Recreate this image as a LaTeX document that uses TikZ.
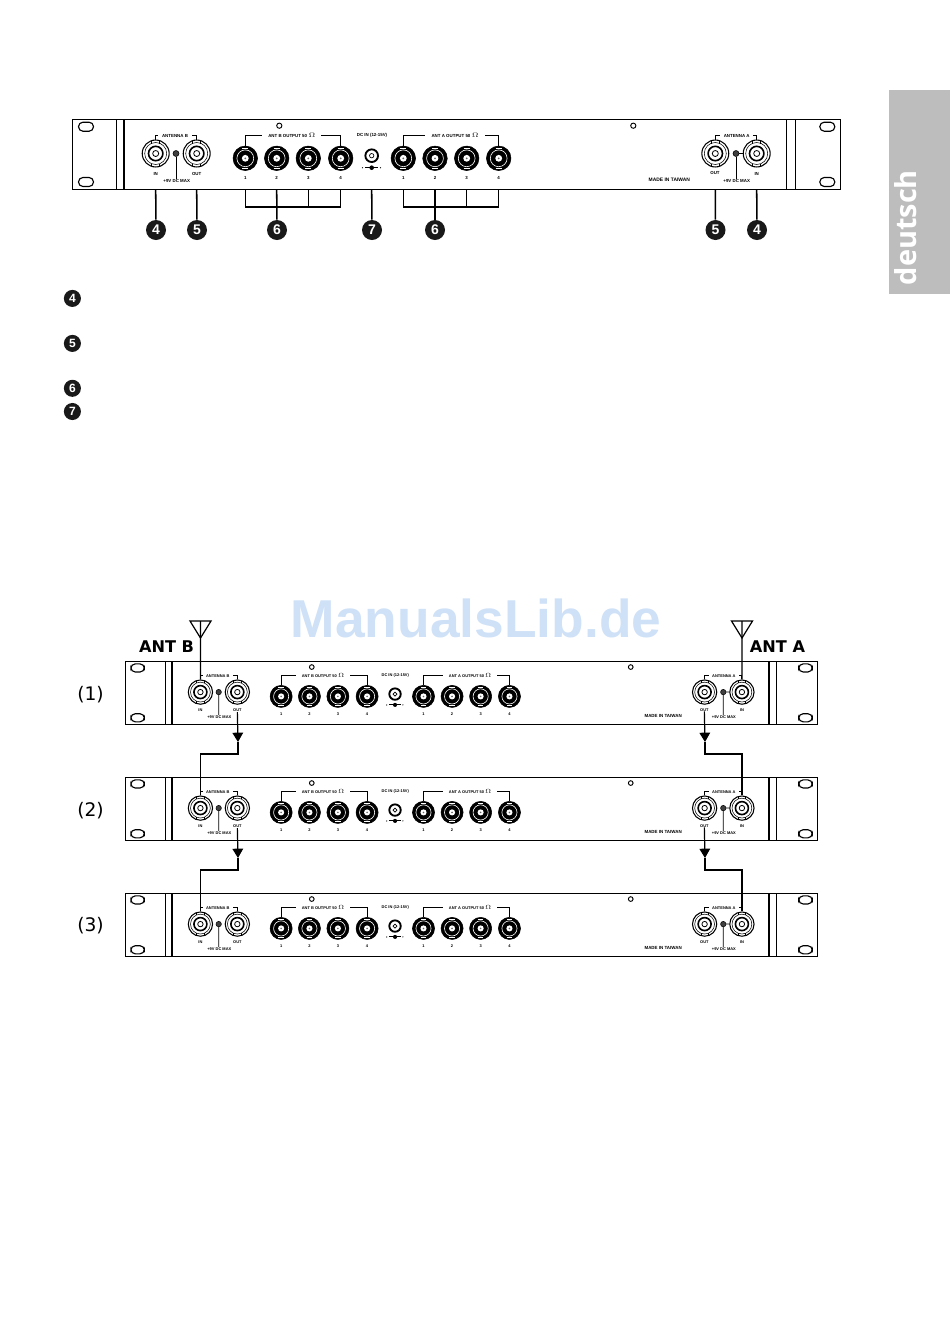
\documentclass[tikz,border=0pt]{standalone}
\usepackage{fontspec}
\setsansfont{Liberation Sans}
\newfontfamily\wide{DejaVu Sans}
\newfontfamily\tabfont{Open Sans}
\usetikzlibrary{arrows.meta, positioning}
\definecolor{markblue}{HTML}{CFE1F7}
\definecolor{tabgray}{HTML}{BDBDBD}

\tikzset{
  rackframe/.style={draw, line width=.9pt, anchor=north west, minimum width=576pt, minimum height=52.5pt, inner sep=0pt},
  tiny/.style={font=\sffamily\bfseries\fontsize{3.3}{4}\selectfont, inner sep=0pt},
  outlabel/.style={tiny, inner xsep=4.5pt},
  bncant/.style={circle, draw, line width=.8pt, minimum size=20.2pt, inner sep=0pt},
  bncout/.style={circle, draw, line width=.4pt, minimum size=18.4pt, inner sep=0pt},
  dcjack/.style={circle, draw, line width=1.4pt, minimum size=9.5pt, inner sep=0pt},
  jack/.style={circle, fill=black!75, draw, line width=.4pt, minimum size=4.5pt, inner sep=0pt},
  callout/.style={circle, fill=black!90, text=white, font=\sffamily\bfseries\fontsize{10.5}{12}\selectfont, minimum size=15pt, inner sep=0pt},
  legend/.style={callout, font=\sffamily\bfseries\fontsize{9}{10}\selectfont, minimum size=12.8pt},
  rowlab/.style={font=\wide\fontsize{14}{15}\selectfont, inner sep=0pt},
  antlab/.style={font=\wide\bfseries\fontsize{12.1}{15}\selectfont, inner sep=0pt},
  leader/.style={line width=1.15pt},
  feedline/.style={line width=.9pt},
  feedarrow/.style={line width=.9pt, -{Triangle[length=7pt, width=8pt]}},
  rackpanel/.pic={
    \node[rackframe] (frame) at (0,0) {};
    \draw[line width=.6pt] (44.7,0) -- (44.7,70);
    \draw[line width=1.1pt] (52,0) -- (52,70);
    \draw[line width=1.1pt] (714.7,0) -- (714.7,70);
    \draw[line width=.6pt] (723.3,0) -- (723.3,70);
    \foreach \hx in {14,755.3}
      \foreach \hy in {7.7,63}
        \draw[line width=.85pt, rounded corners=3.3pt] (\hx-7.5,\hy-4.5) rectangle (\hx+7.5,\hy+4.5);
    \draw[line width=.7pt] (207.3,6.7) circle (2.6);
    \draw[line width=.7pt] (561.3,6.7) circle (2.6);
    % antenna sockets
    \foreach \cx/\nm in {83.7/bin,124.7/bout,643.3/aout,684.7/ain} {
      \draw[line width=.4pt] (\cx,34.5) circle (11);
      \draw[line width=1.2pt] (\cx,34.5) circle (7.2);
      \draw[line width=.6pt] (\cx,34.5) circle (3);
      \draw[line width=.5pt] (\cx-4,21.7) -- (\cx-4,24.5) (\cx+4,21.7) -- (\cx+4,24.5);
      \draw[line width=.5pt] (\cx-4,47.3) -- (\cx-4,44.5) (\cx+4,47.3) -- (\cx+4,44.5);
      \node[bncant] (\nm) at (\cx,34.5) {};
    }
    \node[jack] (bjack) at (104,34.5) {};
    \node[jack] (ajack) at (664,34.5) {};
    \node[tiny] (bpow) at (104.7,62) {+9V DC MAX};
    \node[tiny] (apow) at (664.7,62) {+9V DC MAX};
    \draw[line width=.6pt] (bjack) -- (bjack |- bpow.north);
    \draw[line width=.6pt] (ajack) -- (ajack |- apow.north);
    \draw[line width=.6pt] (ajack) -- (ain);
    \node[tiny, inner xsep=2.5pt] (bant) at (103,16.5) {ANTENNA B};
    \node[tiny, inner xsep=2.5pt] (aant) at (664.7,16.5) {ANTENNA A};
    \draw[line width=.6pt] (bin.north) |- (bant.west);
    \draw[line width=.6pt] (bout.north) |- (bant.east);
    \draw[line width=.6pt] (aout.north) |- (aant.west);
    \draw[line width=.6pt] (ain.north) |- (aant.east);
    \node[tiny] (binl) at (83.7,55) {IN};
    \node[tiny] (boutl) at (124.7,55) {OUT};
    \node[tiny] (aoutl) at (643,54) {OUT};
    \node[tiny] (ainl) at (684.7,55) {IN};
    % output sockets
    \foreach \cx/\nm/\tx in {173.3/ob1/1,204.7/ob2/2,236.3/ob3/3,268.7/ob4/4,331.3/oa1/1,363/oa2/2,394.7/oa3/3,426.7/oa4/4} {
      \fill (\cx,39.3) circle (12.3);
      \draw[white, line width=.45pt] (\cx,39.3) circle (8.4);
      \fill[white] (\cx,39.3) circle (3.4);
      \fill[black!60] (\cx,39.3) circle (1);
      \draw[white, line width=.6pt] (\cx-3,29.6) -- (\cx+3,29.6) (\cx-3,49) -- (\cx+3,49);
      \node[bncout] (\nm) at (\cx,39.3) {};
      \node[tiny] (\nm l) at (\cx,58.7) {\tx};
    }
    \node[outlabel] (bolab) at (219.7,16.5) {ANT B OUTPUT 50$\,\Omega$};
    \node[outlabel] (aolab) at (383,16.5) {ANT A OUTPUT 50$\,\Omega$};
    \draw[line width=.7pt] (ob1.north) |- (bolab.west);
    \draw[line width=.7pt] (ob4.north) |- (bolab.east);
    \draw[line width=.7pt] (oa1.north) |- (aolab.west);
    \draw[line width=.7pt] (oa4.north) |- (aolab.east);
    % dc input
    \node[dcjack] (dc) at (299.7,36.7) {};
    \draw[line width=.5pt] (dc) circle (2.2);
    \node[tiny] (dclab) at (300,16.5) {DC IN (12-15V)};
    \fill (299.7,48.7) circle (2.3);
    \draw[line width=.6pt] (293,48.7) -- (306,48.7);
    \fill (290.5,48.7) circle (.7) (308.5,48.7) circle (.7);
    \node[tiny, font=\sffamily\bfseries\fontsize{3.7}{4}\selectfont] (made) at (597.3,61) {MADE IN TAIWAN};
  }
}

\begin{document}
\begin{tikzpicture}[x=.75pt, y=-.75pt]
\useasboundingbox (0,0) rectangle (950,1343);

% language tab
\fill[tabgray] (889,90) rectangle (950,294);
\node[rotate=90, text=white, font=\tabfont\bfseries\fontsize{21.7}{24}\selectfont, inner sep=0pt, anchor=west] (tablab) at (905.5,285.5) {deutsch};

% rear panel
\pic (p0-) at (72,119) {rackpanel};

\node[callout] (n4b) at (156,230) {4};
\node[callout] (n5b) at (197,230) {5};
\node[callout] (n6b) at (277,230) {6};
\node[callout] (n7) at (372,230) {7};
\node[callout] (n6a) at (435,230) {6};
\node[callout] (n5a) at (715.5,230) {5};
\node[callout] (n4a) at (757,230) {4};

\foreach \src/\dst in {bin/n4b,bout/n5b,dc/n7,aout/n5a,ain/n4a}
  \draw[leader] (p0-\src |- p0-frame.south) -- (\dst);

\coordinate (bar6b) at (277,207);
\coordinate (bar6a) at (435,207);
\draw[leader] (p0-ob1 |- p0-frame.south) |- (bar6b) -| (p0-ob4 |- p0-frame.south);
\draw[leader] (p0-ob2 |- p0-frame.south) -- (n6b);
\draw[leader] (p0-ob3 |- p0-frame.south) -- (p0-ob3 |- bar6b);
\draw[leader] (p0-oa1 |- p0-frame.south) |- (bar6a) -| (p0-oa4 |- p0-frame.south);
\draw[leader] (p0-oa2 |- p0-frame.south) -- (n6a);
\draw[leader] (p0-oa3 |- p0-frame.south) -- (p0-oa3 |- bar6a);

\node[legend] (l4) at (72.4,298.4) {4};
\node[legend] (l5) at (72.4,343.4) {5};
\node[legend] (l6) at (72.4,388.3) {6};
\node[legend] (l7) at (72.4,411.5) {7};

% watermark
\node[text=markblue, font=\sffamily\bfseries\fontsize{40}{44}\selectfont, inner sep=0pt] (mark) at (476,618) {ManualsLib.de};

% cascade
\pic[scale=.901, transform shape] (p1-) at (125,661) {rackpanel};
\pic[scale=.901, transform shape] (p2-) at (125,777) {rackpanel};
\pic[scale=.901, transform shape] (p3-) at (125,893) {rackpanel};

\node[rowlab] (c1) at (90.5,694.5) {(1)};
\node[rowlab] (c2) at (90.5,810.5) {(2)};
\node[rowlab] (c3) at (90.5,926) {(3)};

\node[antlab] (antblab) at (166.5,647) {ANT B};
\node[antlab] (antalab) at (777.5,647) {ANT A};

\coordinate (antb) at (200.5,621);
\coordinate (anta) at (742,621);
\foreach \ant/\sock in {antb/p1-bin,anta/p1-ain} {
  \draw[feedline] (\ant) ++(-10.5,0) -- ++(21,0) -- ++(-10.5,17) -- cycle;
  \draw[feedline] (\ant) -- (\sock.north);
}

\foreach \up/\down/\yy in {p1/p2/0,p2/p3/116} {
  \coordinate (barb\up) at (238,742+\yy);
  \coordinate (bara\up) at (705,742+\yy);
  \draw[feedarrow] (\up-boutl.south) -- (barb\up);
  \draw[feedarrow] (\up-aoutl.south) -- (bara\up);
  \draw[feedline] (barb\up) |- ++(-18,12) -| (\down-bin.north);
  \draw[feedline] (bara\up) |- ++(18,12) -| (\down-ain.north);
}
\end{tikzpicture}
\end{document}
